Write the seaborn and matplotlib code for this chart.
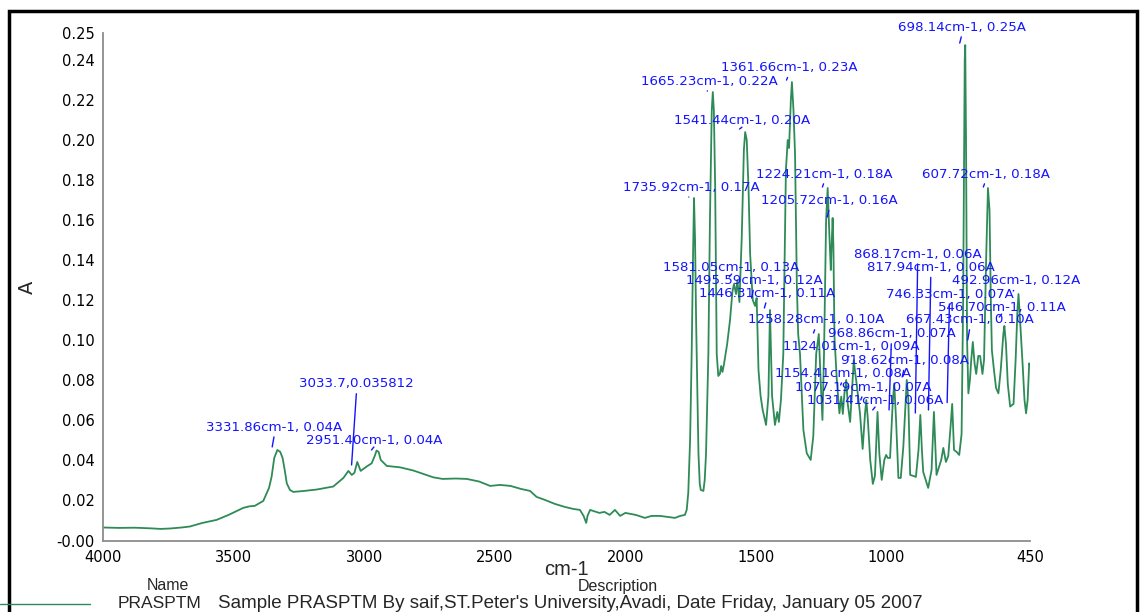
import matplotlib
matplotlib.use('Agg')
import matplotlib.pyplot as plt
from matplotlib.lines import Line2D
from matplotlib.patches import Rectangle
import pandas as pd
import seaborn as sns

# Spectrum (wavenumber in cm-1, absorbance)
wavenumber = [
    4000, 3940, 3880, 3821, 3780, 3744, 3700, 3668, 3620, 3566, 3520, 3464, 3440, 3420,
    3387, 3365, 3355, 3345, 3333, 3322, 3313, 3305, 3297, 3285, 3272, 3230, 3182, 3119,
    3080, 3061, 3048, 3038, 3027, 3020, 3014, 2991, 2972, 2960, 2953, 2945, 2937, 2914,
    2863, 2812, 2736, 2700, 2650, 2608, 2560, 2518, 2480, 2440, 2400, 2365, 2340, 2308,
    2270, 2232, 2200, 2174, 2160, 2150, 2145, 2135, 2100, 2080, 2060, 2040, 2020, 2000,
    1980, 1960, 1925, 1900, 1867, 1840, 1810, 1790, 1772, 1765, 1759, 1752, 1746, 1741,
    1737, 1733, 1729, 1720, 1715, 1711, 1701, 1696, 1691, 1682, 1676, 1669, 1665, 1661,
    1656, 1650, 1644, 1638, 1633, 1628, 1622, 1610, 1599, 1590, 1584, 1576, 1571, 1563,
    1554, 1546, 1541, 1535, 1528, 1522, 1512, 1503, 1497, 1490, 1482, 1474, 1461, 1452,
    1446, 1438, 1427, 1418, 1412, 1404, 1395, 1385, 1378, 1373, 1366, 1362, 1356, 1350,
    1343, 1338, 1331, 1318, 1305, 1290, 1280, 1269, 1259, 1251, 1245, 1239, 1231, 1225,
    1218, 1213, 1211, 1206, 1203, 1199, 1190, 1180, 1173, 1167, 1161, 1154, 1148, 1139,
    1133, 1125, 1119, 1113, 1101, 1091, 1082, 1077, 1071, 1062, 1052, 1044, 1034, 1027,
    1018, 1008, 1001, 995, 986, 976, 970, 963, 954, 945, 935, 922, 916, 909,
    897, 887, 877, 870, 864, 859, 840, 827, 818, 808, 798, 790, 782, 772,
    763, 754, 748, 741, 731, 721, 712, 706, 700, 698, 695, 691, 686, 680,
    675, 669, 662, 656, 648, 641, 632, 626, 618, 611, 605, 600, 596, 588,
    580, 571, 562, 552, 548, 542, 535, 526, 513, 505, 498, 494, 488, 477,
    471, 465, 459, 453, 450,
]
absorbance = [
    0.0062, 0.0060, 0.0061, 0.0058, 0.0055, 0.0057, 0.0062, 0.0067, 0.0085, 0.0100, 0.0125, 0.0160, 0.0168, 0.0170,
    0.0195, 0.0260, 0.0317, 0.0410, 0.0450, 0.0440, 0.0410, 0.0350, 0.0283, 0.0250, 0.0240, 0.0245, 0.0252, 0.0267,
    0.0310, 0.0345, 0.0325, 0.0335, 0.0390, 0.0365, 0.0345, 0.0367, 0.0383, 0.0420, 0.0447, 0.0440, 0.0400, 0.0370,
    0.0363, 0.0347, 0.0313, 0.0305, 0.0307, 0.0305, 0.0292, 0.0270, 0.0275, 0.0270, 0.0255, 0.0245, 0.0215, 0.0200,
    0.0180, 0.0165, 0.0155, 0.0150, 0.0120, 0.0085, 0.0120, 0.0150, 0.0135, 0.0140, 0.0125, 0.0150, 0.0120, 0.0135,
    0.0130, 0.0125, 0.0110, 0.0120, 0.0120, 0.0115, 0.0110, 0.0120, 0.0125, 0.0150, 0.0235, 0.0500, 0.0930, 0.1400,
    0.1710, 0.1500, 0.1100, 0.0433, 0.0280, 0.0250, 0.0245, 0.0300, 0.0430, 0.0930, 0.1600, 0.2150, 0.2240, 0.2150,
    0.1770, 0.0930, 0.0820, 0.0830, 0.0870, 0.0840, 0.0880, 0.0980, 0.1100, 0.1240, 0.1280, 0.1230, 0.1300, 0.1190,
    0.1520, 0.1950, 0.2040, 0.2000, 0.1750, 0.1430, 0.1200, 0.1170, 0.1210, 0.0850, 0.0720, 0.0650, 0.0575, 0.0720,
    0.1150, 0.0720, 0.0575, 0.0640, 0.0590, 0.0700, 0.0930, 0.1850, 0.2000, 0.1960, 0.2200, 0.2290, 0.2150, 0.1930,
    0.1270, 0.1030, 0.0930, 0.0550, 0.0433, 0.0400, 0.0520, 0.0930, 0.1030, 0.0770, 0.0600, 0.0930, 0.1600, 0.1760,
    0.1510, 0.1350, 0.1430, 0.1610, 0.1470, 0.1017, 0.0800, 0.0633, 0.0717, 0.0630, 0.0730, 0.0800, 0.0680, 0.0590,
    0.0717, 0.0900, 0.0830, 0.0770, 0.0630, 0.0455, 0.0630, 0.0700, 0.0600, 0.0400, 0.0280, 0.0320, 0.0640, 0.0430,
    0.0300, 0.0400, 0.0425, 0.0410, 0.0410, 0.0680, 0.0783, 0.0600, 0.0310, 0.0310, 0.0470, 0.0800, 0.0700, 0.0325,
    0.0320, 0.0315, 0.0450, 0.0625, 0.0450, 0.0340, 0.0260, 0.0350, 0.0640, 0.0325, 0.0367, 0.0400, 0.0460, 0.0390,
    0.0420, 0.0570, 0.0680, 0.0450, 0.0440, 0.0425, 0.0530, 0.1200, 0.2400, 0.2475, 0.2000, 0.1000, 0.0733, 0.0800,
    0.0900, 0.0990, 0.0880, 0.0830, 0.0920, 0.0920, 0.0830, 0.0900, 0.1400, 0.1760, 0.1650, 0.1200, 0.0950, 0.0850,
    0.0760, 0.0733, 0.0850, 0.1030, 0.1070, 0.0980, 0.0780, 0.0667, 0.0680, 0.0900, 0.1150, 0.1230, 0.1100, 0.0850,
    0.0700, 0.0633, 0.0700, 0.0883, 0.0870,
]

# Peak picks printed on the chart
peak_labels = [
    '698.14cm-1, 0.25A', '1361.66cm-1, 0.23A', '1665.23cm-1, 0.22A', '1541.44cm-1, 0.20A',
    '1224.21cm-1, 0.18A', '607.72cm-1, 0.18A', '1735.92cm-1, 0.17A', '1205.72cm-1, 0.16A',
    '868.17cm-1, 0.06A', '817.94cm-1, 0.06A', '1581.05cm-1, 0.13A', '1495.59cm-1, 0.12A',
    '492.96cm-1, 0.12A', '1446.31cm-1, 0.11A', '746.33cm-1, 0.07A', '546.70cm-1, 0.11A',
    '1258.28cm-1, 0.10A', '667.43cm-1, 0.10A', '968.86cm-1, 0.07A', '1124.01cm-1, 0.09A',
    '918.62cm-1, 0.08A', '1154.41cm-1, 0.08A', '1077.19cm-1, 0.07A', '1031.41cm-1, 0.06A',
    '3033.7,0.035812', '3331.86cm-1, 0.04A', '2951.40cm-1, 0.04A',
]
peak_wn = [
    698.14, 1361.66, 1665.23, 1541.44, 1224.21, 607.72, 1735.92, 1205.72,
    868.17, 817.94, 1581.05, 1495.59, 492.96, 1446.31, 746.33, 546.70,
    1258.28, 667.43, 968.86, 1124.01, 918.62, 1154.41, 1077.19, 1031.41,
    3033.7, 3331.86, 2951.40,
]
# label heights and leader-line ends (absorbance units)
label_y = [
    0.2565, 0.2362, 0.2295, 0.2097, 0.1830, 0.1830, 0.1764, 0.1697,
    0.1429, 0.1362, 0.1362, 0.1297, 0.1297, 0.1234, 0.1229, 0.1162,
    0.1100, 0.1100, 0.1030, 0.0967, 0.0897, 0.0834, 0.0764, 0.0697,
    0.0780, 0.0564, 0.0497,
]
tip_y = [
    0.2485, 0.2300, 0.2245, 0.2055, 0.1765, 0.1765, 0.1715, 0.1615,
    0.0635, 0.0650, 0.1315, 0.1210, 0.1245, 0.1160, 0.0687, 0.1115,
    0.1035, 0.1000, 0.0650, 0.0915, 0.0815, 0.0775, 0.0700, 0.0650,
    0.0375, 0.0465, 0.0450,
]

df = pd.DataFrame({'cm-1': wavenumber, 'A': absorbance})

sns.set_style('white')
plt.rcParams['font.family'] = ['DejaVu Sans']

green = '#2e8b57'
blue = '#1414ff'
grey = '#8c8c8c'
arial = 'Liberation Sans'

fig = plt.figure(figsize=(11.41, 6.12), dpi=100)
ax = fig.add_axes([0.0905, 0.1152, 0.8122, 0.8304])

sns.lineplot(data=df, x='cm-1', y='A', sort=False, color=green, linewidth=1.3, ax=ax)

ymin, ymax = -0.0008, 0.2534
ax.set_xlim(4000, 450)
ax.set_ylim(ymin, ymax)

ax.set_xticks([4000, 3500, 3000, 2500, 2000, 1500, 1000, 500, 450])
ax.set_xticklabels(['4000', '3500', '3000', '2500', '2000', '1500', '1000', '', '450'])
yt = [ymin, 0.02, 0.04, 0.06, 0.08, 0.10, 0.12, 0.14, 0.16, 0.18, 0.20, 0.22, 0.24, ymax]
ax.set_yticks(yt)
ax.set_yticklabels(['%.2f' % v for v in yt])
ax.tick_params(axis='both', direction='out', length=4, width=1, color=grey,
               labelsize=10.5, pad=2, labelcolor='black')

sns.despine(ax=ax)
for s in ['left', 'bottom']:
    ax.spines[s].set_color(grey)
    ax.spines[s].set_linewidth(1.3)

ax.set_xlabel('cm-1', fontsize=14.5, family=arial)
ax.xaxis.set_label_coords(0.5, -0.037)
ax.set_ylabel('A', fontsize=14, labelpad=14)

# peak labels with short leader lines
for i, lab in enumerate(peak_labels):
    if lab.startswith('3033.7'):
        tx, lx = peak_wn[i] - 4, peak_wn[i] + 15
    else:
        tx, lx = peak_wn[i] + 12, peak_wn[i] + 21
    ax.annotate(lab, xy=(lx, tip_y[i]), xytext=(tx, label_y[i]), textcoords='data',
                ha='center', va='center', fontsize=9.6, color=blue, annotation_clip=False,
                arrowprops=dict(arrowstyle='-', color=blue, lw=1, shrinkA=0, shrinkB=0,
                                relpos=(0.5, 0)))

# name / description table under the plot
fig.text(168 / 1141, 1 - 586 / 612, 'Name', ha='center', va='center',
         fontsize=11.5, family=arial)
fig.text(618 / 1141, 1 - 586 / 612, 'Description', ha='center', va='center',
         fontsize=11.5, family=arial)
fig.add_artist(Line2D([0, 90 / 1141], [1 - 604 / 612] * 2, color=green, lw=1,
                      transform=fig.transFigure))
fig.text(118 / 1141, 1 - 603 / 612, 'PRASPTM', ha='left', va='center',
         fontsize=12.5, family=arial)
fig.text(218 / 1141, 1 - 603 / 612,
         "Sample PRASPTM By saif,ST.Peter's University,Avadi, Date Friday, January 05 2007",
         ha='left', va='center', fontsize=13.5, family=arial)

# black frame around the window
fig.add_artist(Rectangle((9 / 1141, -0.2), 1128 / 1141, 1.2 - 11 / 612, fill=False,
                         lw=2.5, ec='black', transform=fig.transFigure))

fig.savefig('out.png', dpi=100)
